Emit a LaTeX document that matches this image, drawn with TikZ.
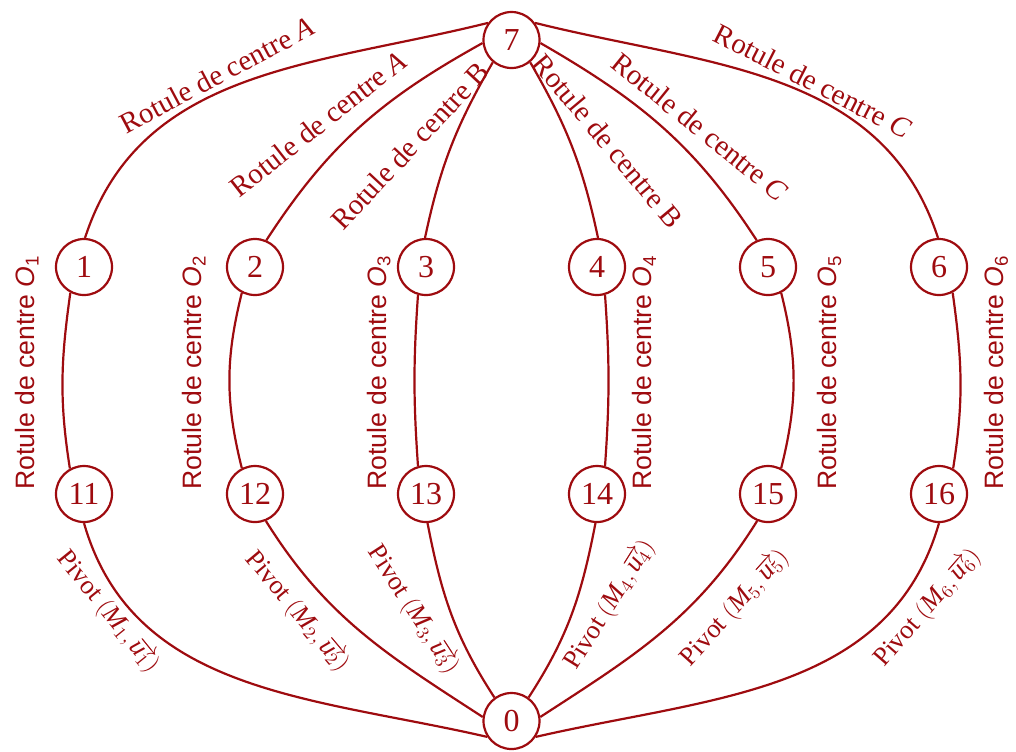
\documentclass[tikz,border=0pt]{standalone}
\usepackage{fontspec}
\setmainfont{Liberation Serif}
\setsansfont{Liberation Sans}
\usetikzlibrary{positioning,calc}
\definecolor{linkred}{HTML}{9E0B0F}
\newcommand{\rot}[1]{Rotule de centre #1}
\newcommand{\piv}[1]{Pivot $(\textit{M}_{#1},\overrightarrow{\textit{u}_{#1}})$}
\newcommand{\ctr}[1]{Rotule de centre \textit{O}\textsubscript{#1}}
\tikzset{
  piece/.style={circle,draw=linkred,line width=1.1pt,minimum size=28pt,inner sep=0pt,text=linkred,font=\fontsize{16}{19}\selectfont},
  liaison/.style={draw=linkred,line width=1.1pt},
  lab/.style={text=linkred,font=\fontsize{14.5}{17}\selectfont,inner sep=1pt},
  pivlab/.style={lab,font=\fontsize{13.2}{16}\selectfont},
  vlab/.style={rotate=90,pos=0.45,text=linkred,font=\sffamily\fontsize{13.3}{16}\selectfont,inner sep=0pt,outer sep=12pt}
}

\begin{document}
\begin{tikzpicture}[x=0.5pt,y=-0.5pt,node distance=113.5pt and 85.5pt,on grid]
  \useasboundingbox (0,0) rectangle (1016,751);
  \node[piece] (n1) at (84,267) {1};
  \node[piece,right=of n1] (n2) {2};
  \node[piece,right=of n2] (n3) {3};
  \node[piece,right=of n3] (n4) {4};
  \node[piece,right=of n4] (n5) {5};
  \node[piece,right=of n5] (n6) {6};
  \node[piece,below=of n1] (n11) {11};
  \node[piece,below=of n2] (n12) {12};
  \node[piece,below=of n3] (n13) {13};
  \node[piece,below=of n4] (n14) {14};
  \node[piece,below=of n5] (n15) {15};
  \node[piece,below=of n6] (n16) {16};
  \node[piece] (n7) at (511.5,40) {7};
  \node[piece] (n0) at (511.5,721) {0};

  \draw[liaison] (n7.144) to[out=194,in=72] (n1.88);
  \draw[liaison] (n7.186) to[out=209,in=57] (n2.67);
  \draw[liaison] (n7.230) to[out=240,in=78] (n3.92);
  \draw[liaison] (n7.310) to[out=300,in=102] (n4.88);
  \draw[liaison] (n7.354) to[out=330,in=123] (n5.113);
  \draw[liaison] (n7.36) to[out=346,in=108] (n6.92);
  \node[lab,rotate=28] (r1) at (217,75) {\rot{\textit{A}}};
  \node[lab,rotate=38] (r2) at (318,124) {\rot{\textit{A}}};
  \node[lab,rotate=47] (r3) at (410,146) {\rot{B}};
  \node[lab,rotate=-50] (r4) at (608,141) {\rot{B}};
  \node[lab,rotate=-39] (r5) at (700,127) {\rot{\textit{C}}};
  \node[lab,rotate=-27] (r6) at (813,81) {\rot{\textit{C}}};

  \draw[liaison] (n1.242) to[out=262,in=99] node[vlab,anchor=south] {\ctr{1}} (n11.119);
  \draw[liaison] (n2.243) to[out=256,in=104] node[vlab,anchor=south] {\ctr{2}} (n12.117);
  \draw[liaison] (n3.254) to[out=266,in=94] node[vlab,anchor=south] {\ctr{3}} (n13.106);
  \draw[liaison] (n4.286) to[out=274,in=86] node[vlab,anchor=north] {\ctr{4}} (n14.74);
  \draw[liaison] (n5.297) to[out=284,in=76] node[vlab,anchor=north] {\ctr{5}} (n15.63);
  \draw[liaison] (n6.298) to[out=278,in=81] node[vlab,anchor=north] {\ctr{6}} (n16.61);

  \draw[liaison] (n11.270) to[out=286,in=167] (n0.213);
  \draw[liaison] (n12.292) to[out=302,in=147] (n0.172);
  \draw[liaison] (n13.273) to[out=281,in=123] (n0.126);
  \draw[liaison] (n14.267) to[out=259,in=57] (n0.54);
  \draw[liaison] (n15.248) to[out=238,in=33] (n0.8);
  \draw[liaison] (n16.270) to[out=254,in=13] (n0.327);
  \node[pivlab,rotate=-51] (p1) at (108,612) {\piv{1}};
  \node[pivlab,rotate=-50] (p2) at (297,612) {\piv{2}};
  \node[pivlab,rotate=-57] (p3) at (413,610) {\piv{3}};
  \node[pivlab,rotate=58] (p4) at (610,605) {\piv{4}};
  \node[pivlab,rotate=48] (p5) at (735,608) {\piv{5}};
  \node[pivlab,rotate=49] (p6) at (928,608) {\piv{6}};
\end{tikzpicture}
\end{document}
